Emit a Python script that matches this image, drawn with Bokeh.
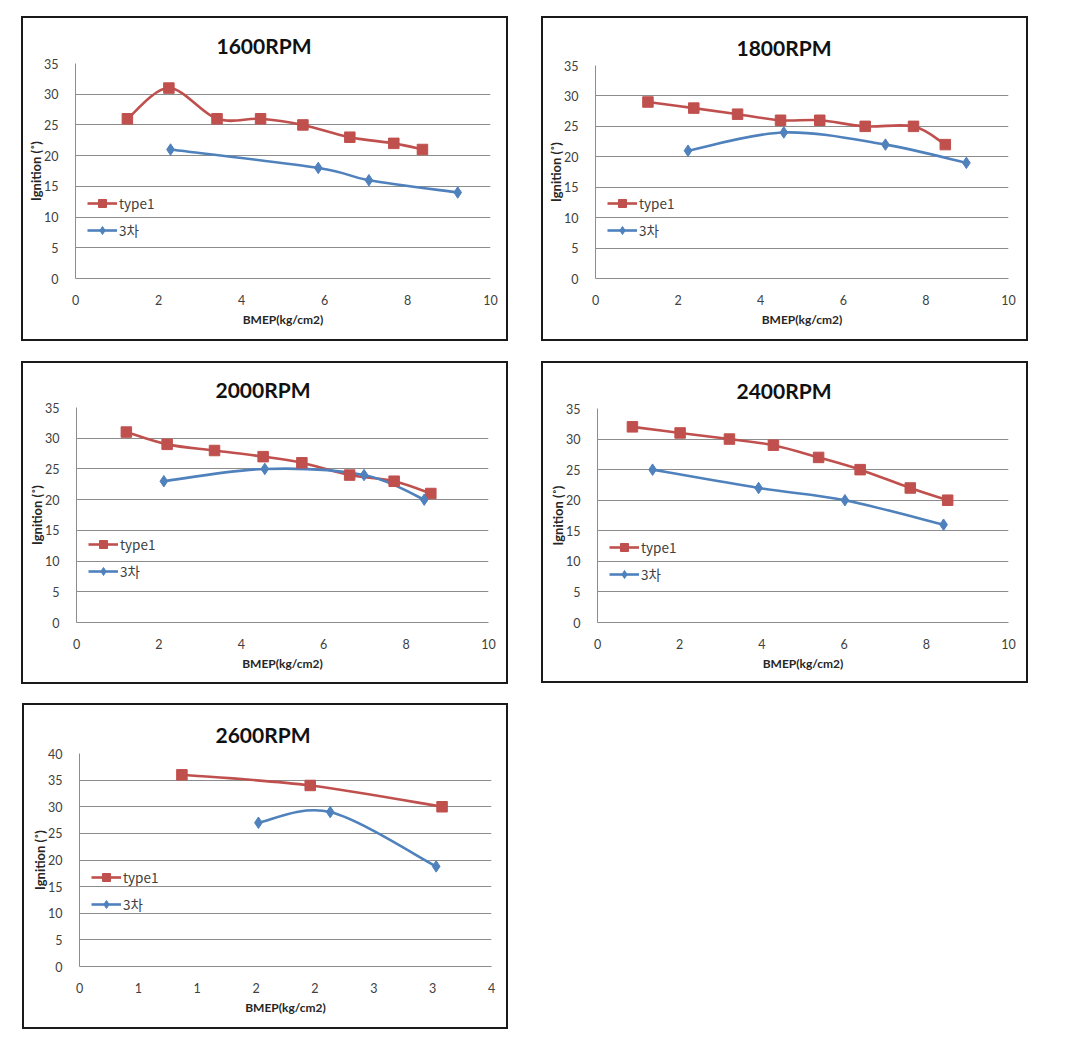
import math
from bokeh.plotting import figure
from bokeh.layouts import column, row
from bokeh.models import Spacer, FixedTicker, Legend, LegendItem, Range1d, Title, ColumnDataSource
from bokeh.embed import file_html
from bokeh.resources import INLINE

# ---------------- data ----------------
titles = ["1600RPM", "1800RPM", "2000RPM", "2400RPM", "2600RPM"]
series_names = ["type1", "3차"]

type1_1600_x = [1.25, 2.25, 3.41, 4.46, 5.48, 6.61, 7.67, 8.36]
type1_1600_y = [26, 31, 26, 26, 25, 23, 22, 21]
cha3_1600_x = [2.29, 5.85, 7.07, 9.21]
cha3_1600_y = [21, 18, 16, 14]

type1_1800_x = [1.27, 2.38, 3.44, 4.48, 5.43, 6.53, 7.70, 8.47]
type1_1800_y = [29, 28, 27, 26, 26, 25, 25, 22]
cha3_1800_x = [2.24, 4.56, 7.02, 8.98]
cha3_1800_y = [21, 24, 22, 19]

type1_2000_x = [1.21, 2.20, 3.35, 4.53, 5.47, 6.63, 7.71, 8.60]
type1_2000_y = [31, 29, 28, 27, 26, 24, 23, 21]
cha3_2000_x = [2.12, 4.57, 6.98, 8.44]
cha3_2000_y = [23, 25, 24, 20]

type1_2400_x = [0.85, 2.01, 3.21, 4.28, 5.38, 6.39, 7.61, 8.52]
type1_2400_y = [32, 31, 30, 29, 27, 25, 22, 20]
cha3_2400_x = [1.34, 3.92, 6.02, 8.42]
cha3_2400_y = [25, 22, 20, 16]

type1_2600_x = [0.87, 1.96, 3.08]
type1_2600_y = [36, 34, 30]
cha3_2600_x = [1.52, 2.13, 3.03]
cha3_2600_y = [27, 29, 18.8]

x_ticks_std = [0, 2, 4, 6, 8, 10]
x_ticks_2600 = [0, 0.5, 1, 1.5, 2, 2.5, 3, 3.5]
x_labels_2600 = ["0", "1", "1", "2", "2", "3", "3", "4"]
y_ticks_35 = [0, 5, 10, 15, 20, 25, 30, 35]
y_ticks_40 = [0, 5, 10, 15, 20, 25, 30, 35, 40]

RED = "#C0504D"
BLUE = "#4F81BD"
GRID = "#8C8C8C"
TXT = "#404040"
FONT = "Lato"
B = 2  # wrapper border width


def smooth_source(xs, ys):
    n = len(xs)
    d = dict(x0=[], y0=[], x1=[], y1=[], cx0=[], cy0=[], cx1=[], cy1=[])
    for i in range(n - 1):
        ip = i - 1 if i > 0 else i
        i2 = i + 2 if i + 2 < n else i + 1
        d["x0"].append(xs[i]); d["y0"].append(ys[i])
        d["x1"].append(xs[i + 1]); d["y1"].append(ys[i + 1])
        d["cx0"].append(xs[i] + (xs[i + 1] - xs[ip]) / 6.0)
        d["cy0"].append(ys[i] + (ys[i + 1] - ys[ip]) / 6.0)
        d["cx1"].append(xs[i + 1] - (xs[i2] - xs[i]) / 6.0)
        d["cy1"].append(ys[i + 1] - (ys[i2] - ys[i]) / 6.0)
    return ColumnDataSource(d)


def panel(title, t_x, t_y, c_x, c_y, xmax, ymax, xticks, yticks, xlabels,
          w, h, ml, mt, fw, fh, title_off, title_sd, leg_y):
    w -= 2 * B
    h -= 2 * B
    ml -= B
    mt -= B
    p = figure(width=w, height=h, output_backend="svg", toolbar_location=None,
               x_range=Range1d(0, xmax), y_range=Range1d(0, ymax),
               frame_width=fw, frame_height=fh,
               min_border_left=ml, min_border_right=w - ml - fw,
               min_border_top=mt, min_border_bottom=h - mt - fh,
               background_fill_color="white", border_fill_color="white",
               outline_line_color=None)
    p.title = Title(text=title, align="left", offset=title_off,
                    text_font=FONT, text_font_size="21px", text_font_style="bold",
                    text_color="#111111", standoff=title_sd)
    p.toolbar.logo = None

    for ax in (p.xaxis[0], p.yaxis[0]):
        ax.major_tick_line_color = None
        ax.minor_tick_line_color = None
        ax.axis_line_color = GRID
        ax.axis_line_width = 1
        ax.major_label_text_font = FONT
        ax.major_label_text_font_size = "12.5px"
        ax.major_label_text_color = TXT
        ax.axis_label_text_font = FONT
        ax.axis_label_text_font_style = "bold"
        ax.axis_label_text_color = "#262626"
    p.xaxis.axis_label_text_font_size = "12px"
    p.yaxis.axis_label_text_font_size = "13px"
    p.xaxis.ticker = FixedTicker(ticks=xticks)
    p.yaxis.ticker = FixedTicker(ticks=yticks)
    if xlabels is not None:
        p.xaxis.major_label_overrides = {t: l for t, l in zip(xticks, xlabels)}
    p.xaxis.axis_label = "BMEP(kg/cm2)"
    p.yaxis.axis_label = "Ignition (˚)"
    p.xaxis.major_label_standoff = 10
    p.yaxis.major_label_standoff = 11
    p.xaxis.axis_label_standoff = 4
    p.yaxis.axis_label_standoff = -3
    p.xgrid.grid_line_color = None
    p.ygrid.grid_line_color = GRID
    p.ygrid.grid_line_width = 1

    # smooth lines
    b1 = p.bezier(x0="x0", y0="y0", x1="x1", y1="y1", cx0="cx0", cy0="cy0",
                  cx1="cx1", cy1="cy1", source=smooth_source(t_x, t_y),
                  line_color=RED, line_width=2.6)
    b2 = p.bezier(x0="x0", y0="y0", x1="x1", y1="y1", cx0="cx0", cy0="cy0",
                  cx1="cx1", cy1="cy1", source=smooth_source(c_x, c_y),
                  line_color=BLUE, line_width=2.6)
    s1 = p.scatter(t_x, t_y, marker="square", size=10.5, fill_color=RED,
                   line_color=RED)
    s2 = p.scatter(c_x, c_y, marker="diamond", size=11.5,
                   fill_color=BLUE, line_color=BLUE)

    leg = Legend(items=[LegendItem(label=series_names[0], renderers=[b1, s1]),
                        LegendItem(label=series_names[1], renderers=[b2, s2])],
                 location=(12, leg_y), glyph_width=30, glyph_height=20,
                 spacing=7, padding=0, margin=0, label_standoff=2,
                 label_text_font="Noto Sans CJK KR", label_text_font_size="13.5px",
                 label_text_color=TXT, border_line_color=None,
                 background_fill_alpha=0)
    p.add_layout(leg, "center")
    return column(p, styles={"border": "%dpx solid #1a1a1a" % B})


p1 = panel(titles[0], type1_1600_x, type1_1600_y, cha3_1600_x, cha3_1600_y,
           10, 35, x_ticks_std, y_ticks_35, None, 487, 325, 54, 47, 415, 215, 141, 11, 38)
p2 = panel(titles[1], type1_1800_x, type1_1800_y, cha3_1800_x, cha3_1800_y,
           10, 35, x_ticks_std, y_ticks_35, None, 487, 325, 54, 49, 413, 213, 141, 11, 38)
p3 = panel(titles[2], type1_2000_x, type1_2000_y, cha3_2000_x, cha3_2000_y,
           10, 35, x_ticks_std, y_ticks_35, None, 487, 323, 55, 46, 412, 215, 139, 12, 41)
p4 = panel(titles[3], type1_2400_x, type1_2400_y, cha3_2400_x, cha3_2400_y,
           10, 35, x_ticks_std, y_ticks_35, None, 487, 322, 56, 47, 411, 214, 139, 11, 38)
p5 = panel(titles[4], type1_2600_x, type1_2600_y, cha3_2600_x, cha3_2600_y,
           3.5, 40, x_ticks_2600, y_ticks_40, x_labels_2600, 486, 326, 57, 50, 412, 213, 136, 14, 52)

layout = column(
    Spacer(height=16),
    row(Spacer(width=21), p1, Spacer(width=33), p2),
    Spacer(height=20),
    row(Spacer(width=21), p3, Spacer(width=33), p4),
    Spacer(height=19),
    row(Spacer(width=22), p5),
)

open("out.html", "w").write(file_html(layout, INLINE))
